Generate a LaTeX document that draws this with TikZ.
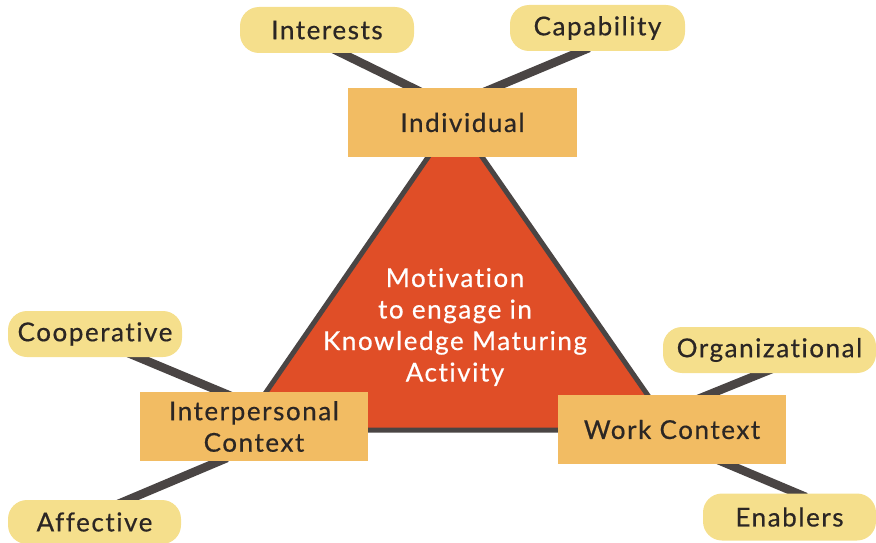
\documentclass[tikz,border=0pt]{standalone}
\usepackage{fontspec}
\setmainfont[LetterSpace=6,FakeBold=0.5,Ligatures=NoCommon]{Lato}
\usetikzlibrary{backgrounds}
\definecolor{boxfill}{HTML}{F2BC63}
\definecolor{ovalfill}{HTML}{F5DF8C}
\definecolor{trifill}{HTML}{E04E27}
\definecolor{darkline}{HTML}{4A4544}
\definecolor{txt}{HTML}{2B2624}
\begin{document}
\begin{tikzpicture}[x=1pt,y=-1pt,
  lbl/.style={font=\fontsize{26}{31.5}\selectfont, text=txt, align=center, inner sep=0pt},
  mainbox/.style={lbl, fill=boxfill, minimum width=229pt, minimum height=69pt},
  oval/.style={lbl, fill=ovalfill, rounded corners=19pt, minimum width=174pt, minimum height=46pt},
  conn/.style={draw=darkline, line width=8.5pt},
  tri/.style={draw=darkline, fill=trifill, line width=5pt, line join=round}]
\useasboundingbox (0,0) rectangle (876,543);
% main boxes
\node[mainbox] (ind) at (462.5,122.5) {Individual};
\node[mainbox, minimum width=228pt] (interp) at (254,426.5) {Interpersonal\\Context};
\node[mainbox, minimum width=228pt] (work) at (672,429.5) {Work Context};
% outer nodes
\node[oval] (interests) at (327,30) {Interests};
\node[oval, minimum width=175pt] (capab) at (597.5,28) {Capability};
\node[oval] (coop) at (95,334) {Cooperative};
\node[oval, minimum width=173pt, minimum height=44pt] (affect) at (94.5,522) {Affective};
\node[oval, minimum width=213pt] (org) at (769.5,350) {Organizational};
\node[oval, minimum width=173pt, minimum height=47pt] (enab) at (789.5,517) {Enablers};
% centre
\node[lbl, text=white] (motiv) at (455,327) {Motivation\\to engage in\\Knowledge Maturing\\Activity};
\begin{scope}[on background layer]
\draw[tri] ([shift={(-7.5,-4.5)}]ind.center) -- ([shift={(-14,3.5)}]interp.center) -- ([shift={(0,0.5)}]work.center) -- cycle;
\draw[conn] ([shift={(4,18)}]interests.center) -- ([shift={(-40.5,-30)}]ind.center);
\draw[conn] ([shift={(-8.5,20)}]capab.center) -- ([shift={(21.5,-30.5)}]ind.center);
\draw[conn] ([shift={(33,19)}]coop.center) -- ([shift={(-23,-30.5)}]interp.center);
\draw[conn] ([shift={(23.5,-18)}]affect.center) -- ([shift={(-27,31.5)}]interp.center);
\draw[conn] ([shift={(2.5,19)}]org.center) -- ([shift={(26,-30.5)}]work.center);
\draw[conn] ([shift={(46,30.5)}]work.center) -- ([shift={(16.5,-20)}]enab.center);
\end{scope}
\end{tikzpicture}
\end{document}
